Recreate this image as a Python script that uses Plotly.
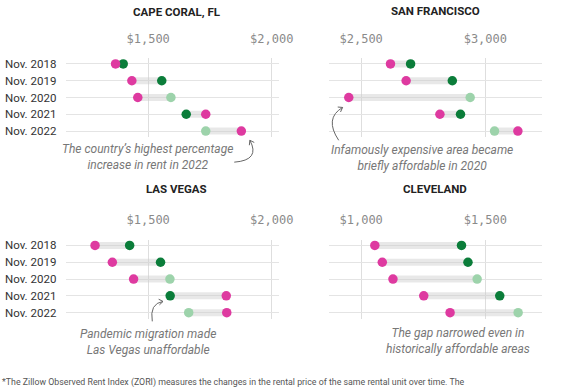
import math
import plotly.graph_objects as go

W, H = 585, 390

years = ["Nov. 2018", "Nov. 2019", "Nov. 2020", "Nov. 2021", "Nov. 2022"]
# pink = rent (ZORI), green = affordable rent
cape_rent = [1368, 1434, 1458, 1733, 1877]
cape_afford = [1399, 1555, 1592, 1654, 1733]
sf_rent = [2618, 2681, 2450, 2817, 3131]
sf_afford = [2699, 2867, 2939, 2900, 3037]
lv_rent = [1285, 1355, 1441, 1816, 1818]
lv_afford = [1425, 1550, 1588, 1589, 1664]
cle_rent = [1055, 1085, 1128, 1252, 1358]
cle_afford = [1404, 1430, 1467, 1558, 1632]

titles = ["CAPE CORAL, FL", "SAN FRANCISCO", "LAS VEGAS", "CLEVELAND"]
notes = [
    "The country’s highest percentage<br>increase in rent in 2022",
    "Infamously expensive area became<br>briefly affordable in 2020",
    "Pandemic migration made<br>Las Vegas unaffordable",
    "The gap narrowed even in<br>historically affordable areas",
]
footnote = ("*The Zillow Observed Rent Index (ZORI) measures the changes in the rental price "
            "of the same rental unit over time. The")

PINK = "#de3aa0"
DGREEN = "#0b7d3a"
LGREEN = "#9dd3ab"
green_cols = [DGREEN, DGREEN, LGREEN, DGREEN, LGREEN]

def px(x):
    return x / W

def py(y):
    return 1 - y / H

panels = [
    dict(rent=cape_rent, aff=cape_afford, xr=[1169, 2030], dom_x=(68, 286), dom_y=(57.4, 136.6), left=True),
    dict(rent=sf_rent, aff=sf_afford, xr=[2369, 3227], dom_x=(336.7, 555), dom_y=(57.4, 136.6), left=False),
    dict(rent=lv_rent, aff=lv_afford, xr=[1169, 2030], dom_x=(68, 286), dom_y=(239.8, 319.2), left=True),
    dict(rent=cle_rent, aff=cle_afford, xr=[869, 1727], dom_x=(336.7, 555), dom_y=(239.8, 319.2), left=False),
]

fig = go.Figure()
layout = {}
for i, p in enumerate(panels):
    n = "" if i == 0 else str(i + 1)
    xa, ya = "x" + n, "y" + n
    bx, by = [], []
    for k in range(len(years)):
        bx += [p["rent"][k], p["aff"][k], None]
        by += [k, k, None]
    fig.add_trace(go.Scatter(x=bx, y=by, mode="lines", xaxis=xa, yaxis=ya,
                             line=dict(color="rgba(205,205,205,0.45)", width=7),
                             hoverinfo="skip", showlegend=False))
    fig.add_trace(go.Scatter(x=p["aff"], y=list(range(len(years))), mode="markers",
                             xaxis=xa, yaxis=ya, showlegend=False,
                             marker=dict(color=green_cols, size=9.5, line=dict(width=0))))
    fig.add_trace(go.Scatter(x=p["rent"], y=list(range(len(years))), mode="markers",
                             xaxis=xa, yaxis=ya, showlegend=False,
                             marker=dict(color=PINK, size=9.5, line=dict(width=0))))
    layout["xaxis" + n] = dict(
        domain=[px(p["dom_x"][0]), px(p["dom_x"][1])], range=p["xr"], anchor=ya,
        side="top", dtick=500, tick0=0, tickprefix="$", tickformat=",.0f",
        showgrid=True, gridcolor="#dedede", gridwidth=1, zeroline=False,
        showline=False, ticks="", ticklabelstandoff=12,
        tickfont=dict(family="DejaVu Sans Mono", size=12, color="#8a8a8a"),
        fixedrange=True)
    layout["yaxis" + n] = dict(
        domain=[py(p["dom_y"][1]), py(p["dom_y"][0])], range=[4.35, -0.35], anchor=xa,
        tickvals=list(range(len(years))), ticktext=years, showticklabels=p["left"],
        showgrid=True, gridcolor="#e4e4e4", gridwidth=1, zeroline=False,
        showline=False, ticks="", ticklabelstandoff=9,
        tickfont=dict(family="Roboto", size=11.5, color="#333333"),
        fixedrange=True)

annotations = []
title_pos = [(181, 11.5), (446, 10.5), (181, 188.5), (446, 189)]
for t, (x, y) in zip(titles, title_pos):
    annotations.append(dict(text="<b>" + t + "</b>", x=px(x), y=py(y), xref="paper", yref="paper",
                            showarrow=False, xanchor="center", yanchor="middle",
                            font=dict(family="Roboto", size=11.5, color="#222222")))
note_pos = [(151.5, 157), (432, 157.5), (151.5, 342.5), (469.5, 341.5)]
for t, (x, y) in zip(notes, note_pos):
    annotations.append(dict(text="<i>" + t + "</i>", x=px(x), y=py(y), xref="paper", yref="paper",
                            showarrow=False, xanchor="center", yanchor="middle", align="center",
                            font=dict(family="Roboto", size=12, color="#777777")))
annotations.append(dict(text=footnote, x=0, y=py(383), xref="paper", yref="paper",
                        showarrow=False, xanchor="left", yanchor="middle",
                        font=dict(family="Roboto", size=8.8, color="#555555")))

# curved pointer arrows (pixel geometry)
curves = [
    ((240, 162), (267, 160), (256, 140)),
    ((347, 140), (332, 118), (351, 107)),
    ((156, 322), (153, 304), (167, 302)),
]
shapes = []
for (x0, y0), (cx, cy), (x1, y1) in curves:
    path = "M {},{} Q {},{} {},{}".format(px(x0), py(y0), px(cx), py(cy), px(x1), py(y1))
    shapes.append(dict(type="path", path=path, xref="paper", yref="paper",
                       line=dict(color="#666666", width=1)))
    dx, dy = x1 - cx, y1 - cy
    L = math.hypot(dx, dy)
    ux, uy = dx / L, dy / L
    arms = []
    for ang in (math.radians(35), math.radians(-35)):
        rx = -ux * math.cos(ang) + uy * math.sin(ang)
        ry = -uy * math.cos(ang) - ux * math.sin(ang)
        arms.append((x1 + 5 * rx, y1 + 5 * ry))
    hp = "M {},{} L {},{} L {},{}".format(px(arms[0][0]), py(arms[0][1]), px(x1), py(y1),
                                          px(arms[1][0]), py(arms[1][1]))
    shapes.append(dict(type="path", path=hp, xref="paper", yref="paper",
                       line=dict(color="#666666", width=1)))

fig.update_layout(**layout)
fig.update_layout(width=W, height=H, margin=dict(l=0, r=0, t=0, b=0),
                  paper_bgcolor="white", plot_bgcolor="white",
                  annotations=annotations, shapes=shapes, showlegend=False,
                  font=dict(family="Roboto"))
fig.write_html("out.html", config={"displayModeBar": False},
               post_script="document.body.style.margin='0';document.body.style.overflow='hidden';")
